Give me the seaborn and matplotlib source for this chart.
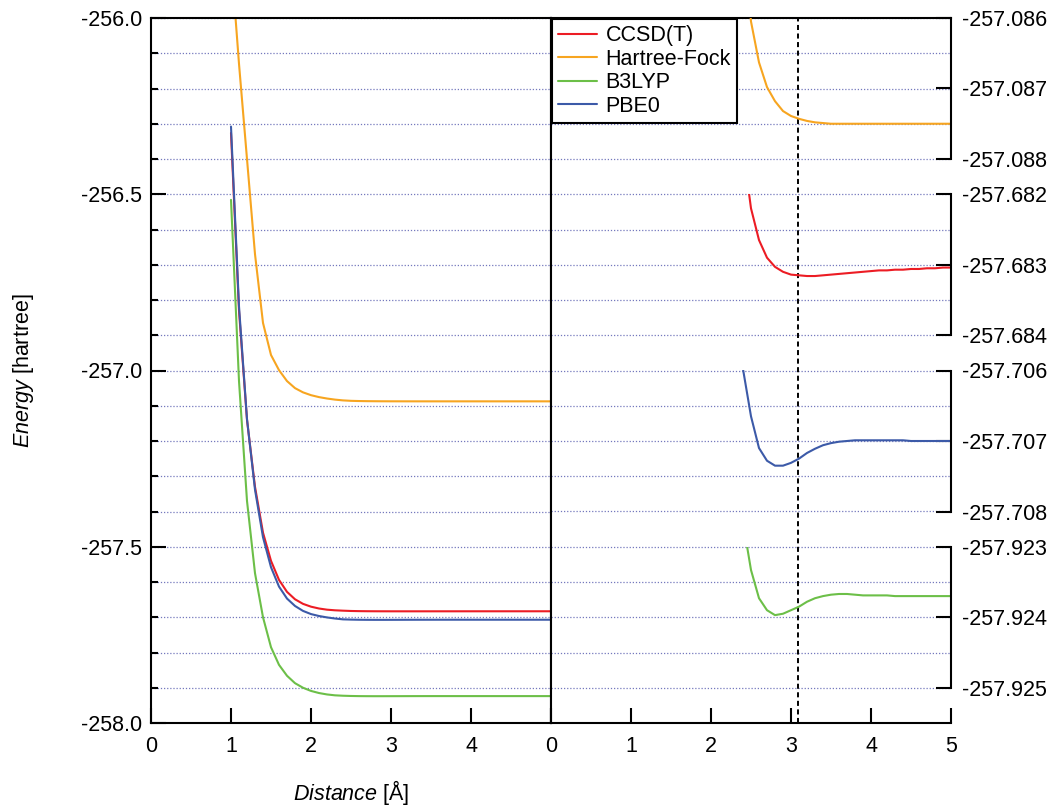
import numpy as np
import matplotlib
matplotlib.use("Agg")
import matplotlib.pyplot as plt
import seaborn as sns
from matplotlib.ticker import MultipleLocator, FormatStrFormatter

# ---------------------------------------------------------------- data
distance = [1.0, 1.1, 1.2, 1.3, 1.4, 1.5, 1.6, 1.7, 1.8, 1.9,
            2.0, 2.1, 2.2, 2.3, 2.4, 2.5, 2.6, 2.7, 2.8, 2.9,
            3.0, 3.1, 3.2, 3.3, 3.4, 3.5, 3.6, 3.7, 3.8, 3.9,
            4.0, 4.1, 4.2, 4.3, 4.4, 4.5, 4.6, 4.7, 4.8, 4.9, 5.0]

ccsd_t = [-256.326, -256.830, -257.140, -257.330, -257.460, -257.540, -257.594, -257.628, -257.649, -257.662,
          -257.670, -257.6752, -257.6785, -257.6803, -257.68135, -257.68220, -257.68265, -257.68290, -257.68303, -257.68310,
          -257.68314, -257.68315, -257.68316, -257.68316, -257.68315, -257.68314, -257.68313, -257.68312, -257.68311, -257.68310,
          -257.68309, -257.68308, -257.68308, -257.68307, -257.68307, -257.68306, -257.68306, -257.68305, -257.68305, -257.68304,
          -257.68304]

hartree_fock = [-255.830, -256.130, -256.400, -256.670, -256.865, -256.956, -256.999, -257.030, -257.050, -257.062,
                -257.070, -257.0755, -257.0795, -257.0826, -257.0848, -257.08605, -257.08663, -257.08698, -257.08718, -257.08732,
                -257.08739, -257.08743, -257.08746, -257.08748, -257.08749, -257.08750, -257.08750, -257.08750, -257.08750, -257.08750,
                -257.08750, -257.08750, -257.08750, -257.08750, -257.08750, -257.08750, -257.08750, -257.08750, -257.08750, -257.08750,
                -257.08750]

b3lyp = [-256.516, -257.030, -257.370, -257.575, -257.700, -257.785, -257.835, -257.866, -257.887, -257.900,
         -257.909, -257.9150, -257.9190, -257.9215, -257.92265, -257.92333, -257.92373, -257.92390, -257.92397, -257.92395,
         -257.92390, -257.92385, -257.92378, -257.92373, -257.92370, -257.92368, -257.92367, -257.92367, -257.92368, -257.92369,
         -257.92369, -257.92369, -257.92369, -257.92370, -257.92370, -257.92370, -257.92370, -257.92370, -257.92370, -257.92370,
         -257.92370]

pbe0 = [-256.308, -256.818, -257.138, -257.338, -257.473, -257.558, -257.613, -257.647, -257.668, -257.682,
        -257.691, -257.6965, -257.7005, -257.7036, -257.70598, -257.70665, -257.70710, -257.70728, -257.70735, -257.70735,
        -257.70731, -257.70725, -257.70717, -257.70711, -257.70706, -257.70703, -257.70701, -257.70700, -257.70699, -257.70699,
        -257.70699, -257.70699, -257.70699, -257.70699, -257.70699, -257.70700, -257.70700, -257.70700, -257.70700, -257.70700,
        -257.70700]

methods = ["CCSD(T)", "Hartree-Fock", "B3LYP", "PBE0"]
energies = [ccsd_t, hartree_fock, b3lyp, pbe0]

# detail-scale ticks for the zoomed panel, one bracket per method
hf_ticks = [-257.086, -257.087, -257.088]
ccsd_ticks = [-257.682, -257.683, -257.684]
pbe0_ticks = [-257.706, -257.707, -257.708]
b3lyp_ticks = [-257.923, -257.924, -257.925]

x_ticks = [0, 1, 2, 3, 4, 5]
equilibrium_distance = 3.09

# ---------------------------------------------------------------- style
sns.set_style("ticks")
plt.rcParams.update({
    "font.family": ["Liberation Sans", "DejaVu Sans"],
    "mathtext.fontset": "custom",
    "mathtext.rm": "Liberation Sans",
    "mathtext.it": "Liberation Sans:italic",
    "axes.unicode_minus": False,
    "axes.edgecolor": "black",
    "axes.linewidth": 1.5,
    "xtick.color": "black",
    "ytick.color": "black",
    "text.color": "black",
    "axes.labelcolor": "black",
})

FS = 15.5
LW = 1.5
TICK_LEN = 10.8
colors = {
    "CCSD(T)": "#ec1c24",
    "Hartree-Fock": "#f7a520",
    "B3LYP": "#6cbf48",
    "PBE0": "#3c5aa8",
}
grid_kw = dict(ls=(0, (1, 1.5)), lw=0.9, color="#7478bd")

W, H = 1051, 807
fig = plt.figure(figsize=(W / 100, H / 100), dpi=100)


def rect(x0, y0, x1, y1):
    return [x0 / W, 1 - y1 / H, (x1 - x0) / W, (y1 - y0) / H]


ax_l = fig.add_axes(rect(151, 18, 551, 723))
ax_r = fig.add_axes(rect(551, 18, 951, 723))

# ---------------------------------------------------------------- full-range panel
for name, vals in zip(methods, energies):
    sns.lineplot(x=distance, y=vals, ax=ax_l, color=colors[name], lw=LW,
                 label=name, legend=False, estimator=None, sort=False)

ax_l.set_xlim(0, 5)
ax_l.set_ylim(-258, -256)
ax_l.yaxis.set_major_locator(MultipleLocator(0.5))
ax_l.yaxis.set_minor_locator(MultipleLocator(0.1))
ax_l.yaxis.set_major_formatter(FormatStrFormatter("%.1f"))
ax_l.set_xticks(x_ticks)
ax_l.set_xticklabels([str(t) for t in x_ticks[:-1]] + [""])
ax_l.tick_params(axis="both", which="major", direction="in", length=TICK_LEN,
                 width=LW, labelsize=FS, pad=9.5)
ax_l.tick_params(axis="y", which="minor", direction="in", length=5, width=LW)
ax_l.tick_params(axis="y", which="major", pad=6.5)
ax_l.tick_params(axis="x", which="minor", bottom=False)
ax_l.grid(axis="y", which="both", **grid_kw)
ax_l.grid(axis="x", visible=False)

ax_l.set_ylabel(r"$\mathit{Energy}$ [hartree]", fontsize=FS)
ax_l.yaxis.set_label_coords(-0.287, 0.5)
ax_l.set_xlabel(r"$\mathit{Distance}$ [Å]", fontsize=FS)
ax_l.xaxis.set_label_coords(0.5, -0.078)

# ---------------------------------------------------------------- zoomed panel
ax_r.set_xlim(0, 5)
ax_r.set_ylim(-258, -256)
ax_r.set_yticks(np.round(np.arange(-258, -255.95, 0.1), 1))
ax_r.tick_params(axis="y", left=False, right=False, labelleft=False)
ax_r.grid(axis="y", which="major", **grid_kw)
ax_r.grid(axis="x", visible=False)
ax_r.set_xticks(x_ticks)
ax_r.tick_params(axis="x", direction="in", length=TICK_LEN, width=LW,
                 labelsize=FS, pad=9.5)
ax_r.spines["right"].set_visible(False)
ax_r.spines["left"].set_linewidth(LW)
ax_r.axvline(equilibrium_distance, color="black", lw=1.4, ls=(0, (2.6, 1.8)), zorder=1)

# each method gets its own bracket in the right-hand strip
bands = [
    ("Hartree-Fock", hartree_fock, hf_ticks, -256.0),
    ("CCSD(T)", ccsd_t, ccsd_ticks, -256.5),
    ("PBE0", pbe0, pbe0_ticks, -257.0),
    ("B3LYP", b3lyp, b3lyp_ticks, -257.5),
]
for name, vals, ticks, top in bands:
    inset = ax_r.inset_axes([0, top - 0.4, 5, 0.4], transform=ax_r.transData)
    inset.patch.set_visible(False)
    sns.lineplot(x=distance, y=vals, ax=inset, color=colors[name], lw=LW,
                 legend=False, estimator=None, sort=False)
    inset.set_xlim(0, 5)
    inset.set_ylim(ticks[-1], ticks[0])
    inset.set_yticks(ticks)
    inset.set_yticklabels([f"{t:.3f}" for t in ticks])
    inset.yaxis.tick_right()
    inset.tick_params(axis="y", direction="in", length=TICK_LEN, width=LW,
                      labelsize=FS, pad=7.7, right=True, left=False)
    inset.set_xticks([])
    inset.grid(False)
    for side in ("left", "top", "bottom"):
        inset.spines[side].set_visible(False)
    inset.spines["right"].set_linewidth(LW)
    inset.set_xlabel("")
    inset.set_ylabel("")

handles, labels = ax_l.get_legend_handles_labels()
leg = ax_r.legend(handles, labels, loc="upper left", bbox_to_anchor=(0.002, 0.999),
                  borderaxespad=0, fontsize=FS, frameon=True, fancybox=False,
                  edgecolor="black", framealpha=1, handlelength=1.8,
                  handletextpad=0.4, labelspacing=0.12, borderpad=0.3)
leg.get_frame().set_linewidth(LW)
leg.set_zorder(10)

fig.savefig("out.png", dpi=100)
